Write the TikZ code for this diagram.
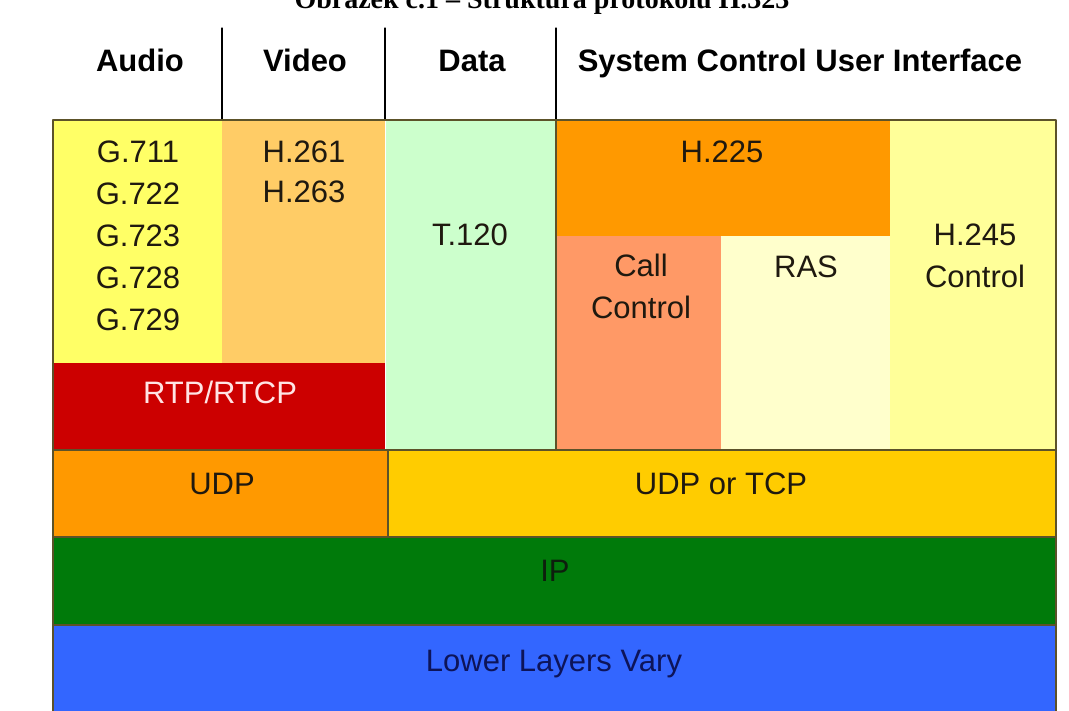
\documentclass[tikz,border=0pt]{standalone}
\usepackage{xcolor}
\usepackage{tikz}
\usepackage{fontspec}
\setmainfont{Liberation Sans}
\newfontfamily\titlefont{Liberation Serif}
\usetikzlibrary{calc}
\definecolor{ffff66}{rgb}{1.,1.,0.4}
\definecolor{ffcc66}{rgb}{1.,0.8,0.4}
\definecolor{ccffcc}{rgb}{0.8,1.,0.8}
\definecolor{ff9900}{rgb}{1.,0.6,0.}
\definecolor{ff9966}{rgb}{1.,0.6,0.4}
\definecolor{ffffcc}{rgb}{1.,1.,0.8}
\definecolor{ffff99}{rgb}{1.,1.,0.6}
\definecolor{cc0000}{rgb}{0.8,0.,0.}
\definecolor{ffcc00}{rgb}{1.,0.8,0.}
\definecolor{007a0a}{rgb}{0.,0.478,0.039}
\definecolor{3366ff}{rgb}{0.2,0.4,1.}
\definecolor{edge}{rgb}{0.36,0.32,0.16}
\definecolor{txt}{rgb}{0.12,0.1,0.06}
\tikzstyle{every node}=[font=\fontsize{31}{42}\selectfont,text=txt]
\tikzstyle{box}=[anchor=north west,inner sep=0pt,outer sep=0pt]
\tikzstyle{sep}=[line width=1.5pt,color=edge]
\tikzstyle{head}=[anchor=base,font=\bfseries\fontsize{31}{38}\selectfont,text=black]

\begin{document}
\begin{tikzpicture}[line cap=round,line join=round,x=1pt,y=-1pt]
\useasboundingbox (0,0) rectangle (1069,711);
\clip (0,0) rectangle (1069,711);
\fill[white] (0,0) rectangle (1069,711);
% caption, cut by the top edge
\node[anchor=base,font=\titlefont\bfseries\fontsize{28}{34}\selectfont,text=black] (title) at (542,9) {Obrázek č.1 – Struktura protokolu H.323};
% header row
\node[head] (audiohd) at (140,72) {Audio};
\node[head] (videohd) at (305,72) {Video};
\node[head] (datahd) at (472,72) {Data};
\node[head] (syshd) at (800,72) {System Control User Interface};
% blocks
\node[box,fill=ffff66,minimum width=169,minimum height=243] (audio) at (53,120) {};
\node[box,fill=ffcc66,minimum width=163,minimum height=243] (video) at (222,120) {};
\node[box,fill=cc0000,minimum width=332,minimum height=87] (rtp) at (53,363) {};
\node[box,fill=ccffcc,minimum width=171,minimum height=330] (tdata) at (385,120) {};
\node[box,fill=ff9900,minimum width=334,minimum height=116] (hqa) at (556,120) {};
\node[box,fill=ff9966,minimum width=165,minimum height=214] (call) at (556,236) {};
\node[box,fill=ffffcc,minimum width=169,minimum height=214] (ras) at (721,236) {};
\node[box,fill=ffff99,minimum width=166,minimum height=330] (hqb) at (890,120) {};
\node[box,fill=ff9900,minimum width=335,minimum height=87] (udp) at (53,450) {};
\node[box,fill=ffcc00,minimum width=668,minimum height=87] (udptcp) at (388,450) {};
\node[box,fill=007a0a,minimum width=1003,minimum height=88] (ip) at (53,537) {};
\node[box,fill=3366ff,minimum width=1003,minimum height=90] (lower) at (53,625) {};
% header lines
\coordinate (hva) at (222,28);
\coordinate (hvb) at (385,28);
\coordinate (hvc) at (556,28);
\draw[line width=1.2pt,color=black] (hva) -- (video.north west);
\draw[line width=1.2pt,color=black] (hvb) -- (tdata.north west);
\draw[line width=1.2pt,color=black] (hvc) -- (hqa.north west);
% borders
\draw[line width=0.8pt,color=white] (tdata.north west) -- (tdata.south west);
\draw[sep] (lower.south west) -- (audio.north west) -- (hqb.north east) -- (lower.south east);
\draw[sep] (tdata.north east) -- (tdata.south east);
\draw[sep] (udp.north west) -- (udptcp.north east);
\draw[sep] (udp.north east) -- (udp.south east);
\draw[sep] (ip.north west) -- (ip.north east);
\draw[sep] (lower.north west) -- (lower.north east);
% labels
\node[align=center] (glist) at (138,236) {G.711\\G.722\\G.723\\G.728\\G.729};
\node[align=center,font=\fontsize{31}{40}\selectfont] (hlist) at (304,172) {H.261\\H.263};
\node[anchor=base] (tlab) at (470,246) {T.120};
\node[anchor=base,text={rgb,1:red,1;green,0.9;blue,0.9}] (rtplab) at (220,404) {RTP/RTCP};
\node[anchor=base] (hqalab) at (722,163) {H.225};
\node[align=center] (calllab) at (641,286) {Call\\Control};
\node[anchor=base] (raslab) at (806,278) {RAS};
\node[align=center] (hqblab) at (975,256) {H.245\\Control};
\node[anchor=base] (udplab) at (222,494) {UDP};
\node[anchor=base] (udptcplab) at (721,494) {UDP or TCP};
\node[anchor=base,text={rgb,1:red,0.05;green,0.12;blue,0.05}] (iplab) at (555,581) {IP};
\node[anchor=base,text={rgb,1:red,0.05;green,0.08;blue,0.35}] (lowerlab) at (554,671) {Lower Layers Vary};
\end{tikzpicture}
\end{document}
